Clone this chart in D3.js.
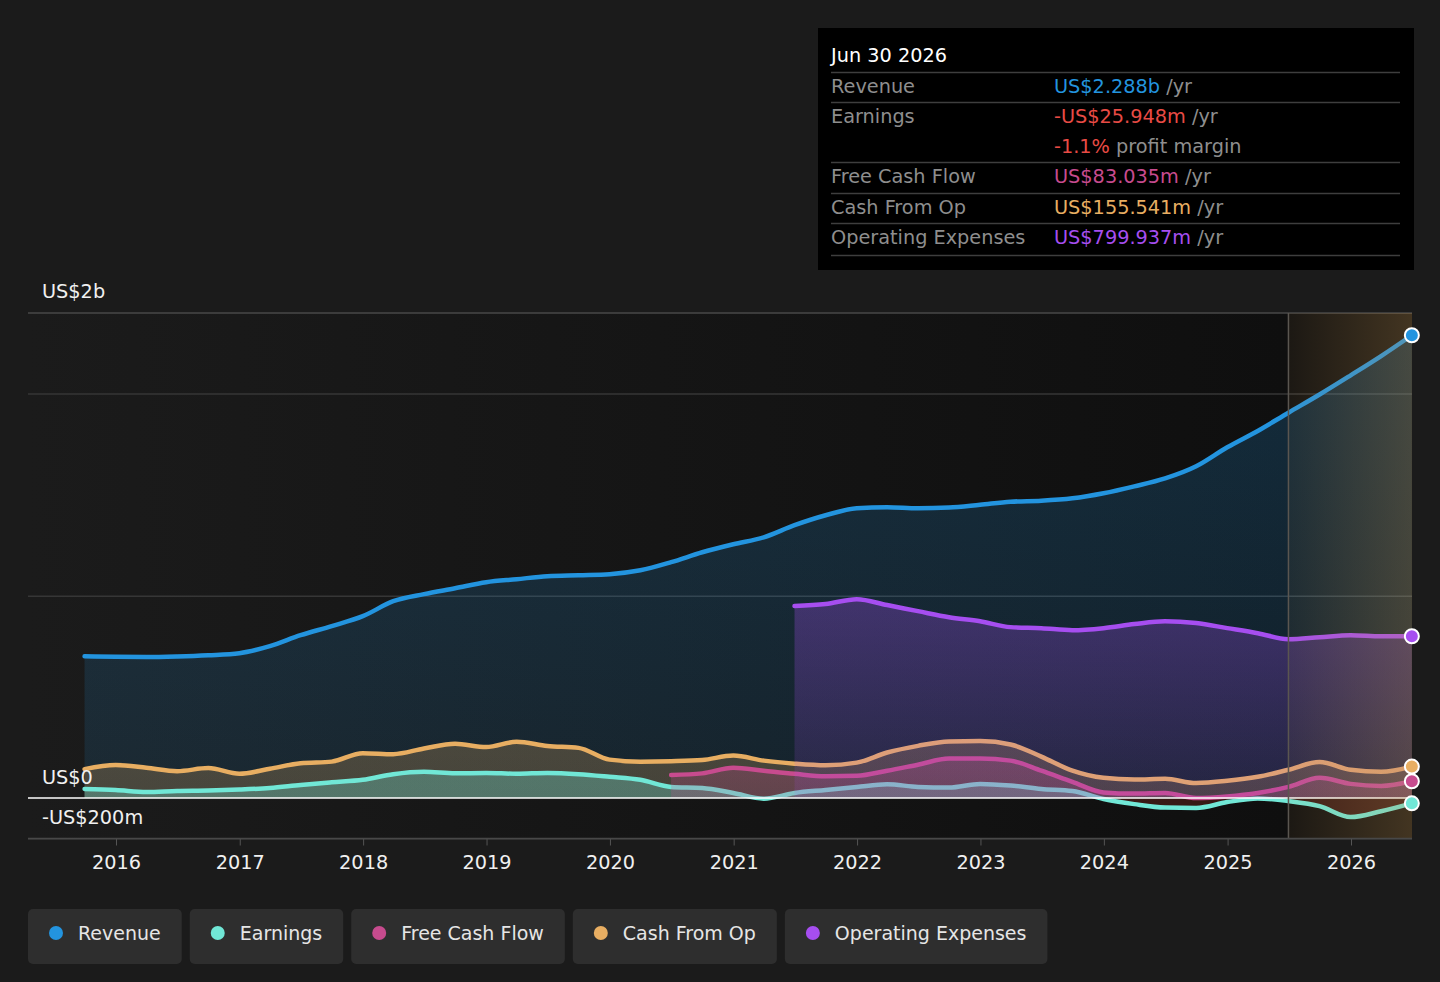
<!DOCTYPE html>
<html>
<head>
<meta charset="utf-8">
<script src="https://cdn.jsdelivr.net/npm/d3@7"></script>
<style>
  html, body { margin: 0; padding: 0; background: #1b1b1b; }
  svg { display: block; font-family: "DejaVu Sans", sans-serif; }
</style>
</head>
<body>
<div class="chart"></div>
<script>
// quarterly periods, Sep 2015 .. Jun 2026 (values in US$ millions)
const quarters = d3.range(44).map(i => {
    const m = 8 + i * 3;
    return new Date(2015 + Math.floor(m / 12), m % 12 + 1, 0);
});

const revenue = [701, 698, 697, 700, 706, 716, 751, 805, 850, 899,
    973, 1008, 1037, 1067, 1082, 1097, 1102, 1107, 1126, 1166,
    1215, 1255, 1289, 1349, 1398, 1433, 1438, 1433, 1436, 1450,
    1465, 1470, 1482, 1507, 1541, 1580, 1640, 1734, 1815, 1905,
    1995, 2090, 2185, 2288];

const earnings = [45, 40, 30, 35, 37, 42, 50, 65, 78, 90,
    118, 130, 122, 124, 120, 124, 118, 105, 90, 55,
    50, 25, -3, 25, 40, 55, 68, 55, 52, 70,
    62, 45, 35, -5, -30, -47, -49, -20, -2, -15,
    -40, -94, -65, -26];

const cashFromOp = [143, 163, 150, 133, 148, 120, 145, 172, 180, 222,
    217, 245, 268, 252, 278, 257, 248, 190, 180, 182,
    188, 210, 185, 170, 162, 175, 225, 258, 280, 282,
    265, 205, 135, 100, 92, 95, 74, 85, 105, 140,
    178, 140, 130, 155.5];

// free cash flow starts Jun 2020, operating expenses Jun 2021
const freeCashFlow = [114, 122, 150, 135, 120, 108, 110, 135, 165, 195,
    195, 185, 135, 80, 28, 22, 25, 0, 8, 25,
    55, 100, 70, 60, 83];

const opExpenses = [949, 959, 983, 954, 924, 894, 874, 845, 840, 830,
    840, 860, 874, 865, 840, 815, 785, 795, 805, 800, 800];

const forecastStart = new Date(2025, 5, 30);
const yearTicks = d3.range(2016, 2027);
const yTickLabels = ['US$2b', 'US$0', '-US$200m'];

const legendNames = ['Revenue', 'Earnings', 'Free Cash Flow', 'Cash From Op', 'Operating Expenses'];
const colors = ['#2394df', '#71e7d6', '#c74b8e', '#e8ae62', '#a64ef0'];

const tipTitle = 'Jun 30 2026';
const tipRows = [
    {label: 'Revenue', value: 'US$2.288b', unit: ' /yr', color: '#2394df'},
    {label: 'Earnings', value: '-US$25.948m', unit: ' /yr', color: '#e84b45'},
    {label: '', value: '-1.1%', unit: ' profit margin', color: '#e84b45'},
    {label: 'Free Cash Flow', value: 'US$83.035m', unit: ' /yr', color: '#c74b8e'},
    {label: 'Cash From Op', value: 'US$155.541m', unit: ' /yr', color: '#e8ae62'},
    {label: 'Operating Expenses', value: 'US$799.937m', unit: ' /yr', color: '#a64ef0'}
];

const toSeries = (vals, offset) => vals.map((v, i) => ({date: quarters[i + offset], value: v}));

const fullWidth = 1440;
const fullHeight = 982;
const plotLeft = 28, plotRight = 1412, plotTop = 313, plotBottom = 838.5;
const fontSize = '19.3px';

const svg = d3.select('.chart')
    .append('svg')
        .attr('width', fullWidth)
        .attr('height', fullHeight);

const x = d3.scaleTime()
    .domain([new Date(2016, 0, 1), new Date(2026, 0, 1)])
    .range([116, 1351]);

const y = d3.scaleLinear()
    .domain([-200, 2000])
    .range([plotBottom, 393.5]);

const defs = svg.append('defs');

function hGrad(id, stops) {
    const g = defs.append('linearGradient').attr('id', id)
        .attr('x1', 0).attr('x2', 1).attr('y1', 0).attr('y2', 0);
    stops.forEach(s => g.append('stop').attr('offset', s[0]).attr('stop-color', s[1]).attr('stop-opacity', s[2]));
}
function vGrad(id, color, a, b) {
    const g = defs.append('linearGradient').attr('id', id)
        .attr('x1', 0).attr('x2', 0).attr('y1', 0).attr('y2', 1);
    g.append('stop').attr('offset', 0).attr('stop-color', color).attr('stop-opacity', a);
    g.append('stop').attr('offset', 1).attr('stop-color', color).attr('stop-opacity', b);
}

hGrad('bgPast', [[0, '#1b1b1b', 1], [1, '#0f0f0f', 1]]);
hGrad('fcOverlay', [[0, '#c89650', 0.07], [1, '#c89650', 0.28]]);
vGrad('gRev', colors[0], 0.22, 0.12);
vGrad('gEarn', colors[1], 0.3, 0.3);
vGrad('gFcf', colors[2], 0.28, 0.22);
vGrad('gCfo', colors[3], 0.24, 0.22);
vGrad('gOpex', colors[4], 0.3, 0.12);

defs.append('clipPath').attr('id', 'abovezero')
    .append('rect').attr('x', plotLeft).attr('y', plotTop)
    .attr('width', plotRight - plotLeft).attr('height', y(0) - plotTop);
defs.append('clipPath').attr('id', 'belowzero')
    .append('rect').attr('x', plotLeft).attr('y', y(0))
    .attr('width', plotRight - plotLeft).attr('height', plotBottom - y(0));

// plot background
svg.append('rect')
    .attr('x', plotLeft).attr('y', plotTop)
    .attr('width', x(forecastStart) - plotLeft).attr('height', plotBottom - plotTop)
    .attr('fill', 'url(#bgPast)');
svg.append('rect')
    .attr('x', x(forecastStart)).attr('y', plotTop)
    .attr('width', plotRight - x(forecastStart)).attr('height', plotBottom - plotTop)
    .attr('fill', '#0f0f0f');

// gridlines
const grid = svg.append('g')
    .attr('transform', `translate(${plotLeft}, 0)`)
    .call(d3.axisLeft(y).tickValues([-200, 1000, 2000]).tickSize(-(plotRight - plotLeft)).tickFormat(''));
grid.select('.domain').remove();
grid.selectAll('line').attr('stroke', '#363636').attr('stroke-width', 1.5);
svg.append('line')
    .attr('x1', plotLeft).attr('x2', plotRight).attr('y1', plotTop).attr('y2', plotTop)
    .attr('stroke', '#484848').attr('stroke-width', 1.5);

const line = d3.line()
    .x(d => x(d.date))
    .y(d => y(d.value))
    .curve(d3.curveMonotoneX);
const area = d3.area()
    .x(d => x(d.date))
    .y0(y(0))
    .y1(d => y(d.value))
    .curve(d3.curveMonotoneX);

const series = [
    {data: toSeries(revenue, 0), color: colors[0], fill: 'url(#gRev)'},
    {data: toSeries(cashFromOp, 0), color: colors[3], fill: 'url(#gCfo)'},
    {data: toSeries(earnings, 0), color: colors[1], fill: 'url(#gEarn)', neg: true},
    {data: toSeries(freeCashFlow, 19), color: colors[2], fill: 'url(#gFcf)'},
    {data: toSeries(opExpenses, 23), color: colors[4], fill: 'url(#gOpex)'}
];

series.forEach(s => {
    if (s.neg) {
        svg.append('path').datum(s.data)
            .attr('d', area).attr('fill', s.fill)
            .attr('clip-path', 'url(#abovezero)');
        svg.append('path').datum(s.data)
            .attr('d', area).attr('fill', '#d8402e').attr('fill-opacity', 0.2)
            .attr('clip-path', 'url(#belowzero)');
    } else {
        svg.append('path').datum(s.data)
            .attr('d', area).attr('fill', s.fill);
    }
    svg.append('path').datum(s.data)
        .attr('d', line)
        .attr('fill', 'none')
        .attr('stroke', s.color)
        .attr('stroke-width', 4.5)
        .attr('stroke-linejoin', 'round')
        .attr('stroke-linecap', 'round');
});

// zero line
svg.append('line')
    .attr('x1', plotLeft).attr('x2', plotRight).attr('y1', y(0)).attr('y2', y(0))
    .attr('stroke', '#ffffff').attr('stroke-width', 1.5);

// forecast overlay
svg.append('rect')
    .attr('x', x(forecastStart)).attr('y', plotTop)
    .attr('width', plotRight - x(forecastStart)).attr('height', plotBottom - plotTop)
    .attr('fill', 'url(#fcOverlay)');
svg.append('line')
    .attr('x1', x(forecastStart)).attr('x2', x(forecastStart))
    .attr('y1', plotTop).attr('y2', plotBottom)
    .attr('stroke', '#5a5650').attr('stroke-width', 1.5);

// end markers
series.forEach(s => {
    const last = s.data[s.data.length - 1];
    svg.append('circle')
        .attr('cx', x(last.date)).attr('cy', y(last.value)).attr('r', 7)
        .attr('fill', s.color).attr('stroke', '#fff').attr('stroke-width', 2);
});

// x axis
const xAxis = svg.append('g')
    .attr('transform', `translate(0, ${plotBottom})`)
    .call(d3.axisBottom(x)
        .tickValues(yearTicks.map(yr => new Date(yr, 0, 1)))
        .tickFormat(d3.timeFormat('%Y'))
        .tickSize(7)
        .tickPadding(10));
xAxis.select('.domain').remove();
xAxis.selectAll('line').attr('stroke', '#555');
xAxis.selectAll('text')
    .attr('fill', '#f0f0f0')
    .style('font-size', fontSize)
    .style('font-family', '"DejaVu Sans", sans-serif');
svg.append('line')
    .attr('x1', plotLeft).attr('x2', plotRight).attr('y1', plotBottom).attr('y2', plotBottom)
    .attr('stroke', '#484848').attr('stroke-width', 1.5);

// y labels
const yLab = [y(2400) - 15, y(0) - 14, y(0) + 26];
yTickLabels.forEach((t, i) => {
    svg.append('text')
        .attr('x', 42).attr('y', yLab[i])
        .attr('fill', '#f0f0f0')
        .style('font-size', fontSize)
        .text(t);
});

// tooltip box
const tip = svg.append('g');
tip.append('rect')
    .attr('x', 818).attr('y', 28).attr('width', 596).attr('height', 242)
    .attr('fill', '#000');
tip.append('text')
    .attr('x', 831).attr('y', 62)
    .attr('fill', '#fff').style('font-size', fontSize)
    .text(tipTitle);
const sepY = [72.5, 102.5, 162.5, 193.5, 223.5, 255.5];
sepY.forEach(sy => tip.append('line')
    .attr('x1', 831).attr('x2', 1400).attr('y1', sy).attr('y2', sy)
    .attr('stroke', '#3e3e3e').attr('stroke-width', 1.5));
const rowY = [93, 123, 153, 183, 214, 244];
tipRows.forEach((r, i) => {
    tip.append('text')
        .attr('x', 831).attr('y', rowY[i])
        .attr('fill', '#8e8e8e').style('font-size', fontSize)
        .text(r.label);
    const t = tip.append('text')
        .attr('x', 1054).attr('y', rowY[i])
        .style('font-size', fontSize);
    t.append('tspan').attr('fill', r.color).text(r.value);
    t.append('tspan').attr('fill', '#8e8e8e').text(r.unit);
});

// legend
let lx = 28;
legendNames.forEach((name, i) => {
    const g = svg.append('g').attr('transform', `translate(${lx}, 909)`);
    const bg = g.append('rect')
        .attr('height', 55).attr('rx', 5)
        .attr('fill', '#2e2e2e');
    g.append('circle')
        .attr('cx', 28).attr('cy', 24).attr('r', 7)
        .attr('fill', colors[i]);
    const t = g.append('text')
        .attr('x', 50).attr('y', 31)
        .attr('fill', '#e6e6e6')
        .style('font-size', '19px')
        .text(name);
    const w = t.node().getComputedTextLength() + 71;
    bg.attr('width', w);
    lx += w + 8;
});
</script>
</body>
</html>
